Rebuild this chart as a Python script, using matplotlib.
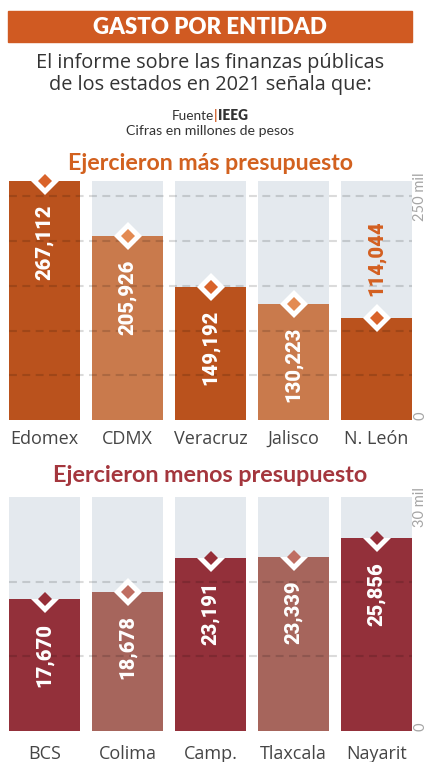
import numpy as np
import matplotlib
matplotlib.use('Agg')
import matplotlib.pyplot as plt
from matplotlib import font_manager as fm

# ---------------- data ----------------
top_states = ['Edomex', 'CDMX', 'Veracruz', 'Jalisco', 'N. León']
top_values = [267112, 205926, 149192, 130223, 114044]
bottom_states = ['BCS', 'Colima', 'Camp.', 'Tlaxcala', 'Nayarit']
bottom_values = [17670, 18678, 23191, 23339, 25856]
top_ticks = [0, 250000]
top_tick_labels = ['0', '250 mil']
bottom_ticks = [0, 30000]
bottom_tick_labels = ['0', '30 mil']
top_grid = [50000, 100000, 150000, 200000, 250000]
bottom_grid = [10000, 20000]

title = 'GASTO POR ENTIDAD'
subtitle = 'El informe sobre las finanzas públicas\nde los estados en 2021 señala que:'
source_label = 'Fuente'
source_name = 'IEEG'
units = 'Cifras en millones de pesos'
top_title = 'Ejercieron más presupuesto'
bottom_title = 'Ejercieron menos presupuesto'

# ---------------- fonts ----------------
def pick(*names):
    for n in names:
        try:
            fm.findfont(fm.FontProperties(family=n), fallback_to_default=False)
            return n
        except Exception:
            pass
    return 'DejaVu Sans'

SANS = pick('Lato', 'Open Sans', 'DejaVu Sans')
BODY = pick('Open Sans', 'Lato', 'DejaVu Sans')
NARROW = pick('Liberation Sans Narrow', 'Roboto', 'DejaVu Sans')
NARROW_SIZE = 17.5 if NARROW == 'Liberation Sans Narrow' else 14.5

W, H = 426, 762
fig = plt.figure(figsize=(W / 100, H / 100), dpi=100)
fig.patch.set_facecolor('white')

def fx(x):
    return x / W

def fy(y):
    return 1 - y / H

BG = '#E4E9EE'
TEXT = '#333333'

# header band
fig.patches.append(matplotlib.patches.Rectangle((fx(8), fy(42.3)), (412 - 8) / W, (42.3 - 10.7) / H,
                                                transform=fig.transFigure, color='#D05A22', zorder=0))
fig.text(fx(210), fy(27), title, ha='center', va='center', color='white',
         fontsize=16, fontweight='heavy', family=SANS)
fig.text(fx(210), fy(74), subtitle, ha='center', va='center', color=TEXT,
         fontsize=14.3, family=BODY, linespacing=1.1)

# source line made of three pieces
r = fig.canvas.get_renderer()
pieces = [(source_label, TEXT, 'normal'), ('|', '#D05A22', 'bold'), (source_name, TEXT, 'heavy')]
txts = [fig.text(0, fy(116), s, ha='left', va='center', color=c, fontsize=9.8,
                 fontweight=w, family=SANS) for s, c, w in pieces]
widths = [t.get_window_extent(r).width for t in txts]
x = 210 - sum(widths) / 2
for t, wd in zip(txts, widths):
    t.set_x(fx(x))
    x += wd
fig.text(fx(210), fy(131), units, ha='center', va='center', color=TEXT, fontsize=10.2, family=SANS)

fig.text(fx(210), fy(163), top_title, ha='center', va='center', color='#D2611F',
         fontsize=16.7, fontweight='bold', family=SANS)
fig.text(fx(210), fy(475), bottom_title, ha='center', va='center', color='#A4363D',
         fontsize=16.8, fontweight='bold', family=SANS)


def panel(rect, states, values, ylim_top, grid, ticks, tick_labels,
          bar_cols, inner_cols, outside_col, full_outline, xpad):
    ax = fig.add_axes(rect)
    n = len(states)
    x = np.arange(n)
    bw = 71 / 83
    ax.bar(x, [ylim_top] * n, width=bw, color=BG, zorder=1, linewidth=0)
    bars = ax.bar(x, values, width=bw, color=[bar_cols[i % 2] for i in range(n)],
                  zorder=2, linewidth=0)
    for g in grid:
        ax.axhline(g, color='black', alpha=0.14, lw=1.5, linestyle=(0, (3.8, 2.6)), zorder=3)
    ax.set_xlim(-0.5 * bw, n - 1 + 0.5 * bw)
    ax.set_ylim(0, ylim_top)
    for s in ax.spines.values():
        s.set_visible(False)
    ax.set_facecolor('none')
    ax.set_xticks(x, states)
    ax.tick_params(axis='x', length=0, pad=xpad, labelsize=13, labelcolor='#454545')
    for lab in ax.get_xticklabels():
        lab.set_family(BODY)
        lab.set_fontweight('normal')
    ax.yaxis.tick_right()
    ax.set_yticks(ticks, tick_labels)
    ax.tick_params(axis='y', length=0, pad=1, labelsize=10.5, labelcolor='#a5a5a5')
    for i, lab in enumerate(ax.get_yticklabels()):
        lab.set_rotation(90)
        lab.set_family(SANS)
        lab.set_va('bottom' if i == 0 else 'center')
    for i, v in enumerate(values):
        wd, = ax.plot(i, v, marker='D', ms=14, color='white', mew=0, zorder=5, clip_on=False)
        if not full_outline[i]:
            wd.set_clip_on(True)
            wd.set_clip_path(bars[i])
        ax.plot(i, v, marker='D', ms=6.8, color=inner_cols[i % 2], mew=0, zorder=6, clip_on=False)
        label = f'{v:,}'
        if v / ylim_top > 0.45:
            ax.annotate(label, (i, v), xytext=(0, -17), textcoords='offset points',
                        rotation=90, ha='center', va='top', color='white',
                        fontsize=NARROW_SIZE, fontweight='heavy', family=NARROW, zorder=7)
        else:
            ax.annotate(label, (i, v), xytext=(0, 16), textcoords='offset points',
                        rotation=90, ha='center', va='bottom', color=outside_col,
                        fontsize=NARROW_SIZE, fontweight='heavy', family=NARROW, zorder=7)
    return ax


panel([fx(9), fy(420), (412 - 9) / W, (420 - 181) / H], top_states, top_values, 267200,
      top_grid, top_ticks, top_tick_labels,
      ['#BA521D', '#C97A4C'], ['#D9632A', '#E38A52'], '#D35F20',
      [True] * 5, 7)

panel([fx(9), fy(731), (412 - 9) / W, (731 - 497) / H], bottom_states, bottom_values, 31400,
      bottom_grid, bottom_ticks, bottom_tick_labels,
      ['#93303A', '#A6655C'], ['#962E38', '#BF6E62'], '#A4363D',
      [False, True, False, False, False], 10)

fig.savefig('out.png', dpi=100, facecolor='white')
